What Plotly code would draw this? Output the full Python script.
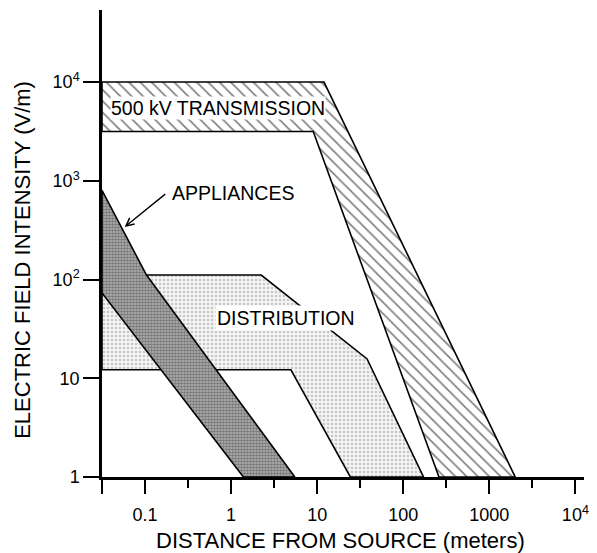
import plotly.graph_objects as go

# ---------------- data (log-log axes) ----------------
X_MIN = 10 ** -1.5          # left edge of the chart (y axis position)

# 500 kV transmission band (outline, closed)
trans_x = [X_MIN, 12, 2000, 260, 9, X_MIN, X_MIN]
trans_y = [1e4, 1e4, 1, 1, 3160, 3160, 1e4]

# Distribution band (outline, closed)
dist_x = [X_MIN, 2.24, 38, 172, 24.3, 4.95, X_MIN, X_MIN]
dist_y = [111, 111, 15.7, 1, 1, 12.2, 12.2, 111]

# Appliances band (outline, closed)
app_x = [X_MIN, 0.104, 5.5, 1.39, X_MIN, X_MIN]
app_y = [800, 111, 1, 1, 73, 800]

# Ticks
x_major = [X_MIN, 0.1, 1, 10, 100, 1000, 1e4]
x_major_text = ["", "0.1", "1", "10", "100", "1000", "10<sup>4</sup>"]
x_minor = [10 ** -0.5, 10 ** 0.5, 10 ** 1.5, 10 ** 2.5, 10 ** 3.5]
y_major = [1, 10, 100, 1000, 1e4]
y_major_text = ["1", "10", "10<sup>2</sup>", "10<sup>3</sup>", "10<sup>4</sup>"]

FONT = "Liberation Sans, Arial, Helvetica, sans-serif"

fig = go.Figure()

fig.add_trace(go.Scatter(
    x=trans_x, y=trans_y, mode="lines", fill="toself",
    line=dict(color="black", width=1.6),
    fillcolor="white",
    fillpattern=dict(shape="\\", size=8, solidity=0.2,
                     fgcolor="black", bgcolor="white"),
    hoverinfo="skip", showlegend=False))

fig.add_trace(go.Scatter(
    x=dist_x, y=dist_y, mode="lines", fill="toself",
    line=dict(color="black", width=1.6),
    fillcolor="white",
    fillpattern=dict(shape=".", size=4, solidity=0.35,
                     fgcolor="#9a9a9a", bgcolor="#f4f4f4"),
    hoverinfo="skip", showlegend=False))

fig.add_trace(go.Scatter(
    x=app_x, y=app_y, mode="lines", fill="toself",
    line=dict(color="black", width=1.6),
    fillcolor="#888",
    fillpattern=dict(shape=".", size=3, solidity=0.55,
                     fgcolor="#3a3a3a", bgcolor="#b4b4b4"),
    hoverinfo="skip", showlegend=False))

annotations = [
    dict(x=-0.155, y=3.738, xref="x", yref="y", text="500 kV TRANSMISSION",
         showarrow=False, bgcolor="white", borderpad=0,
         font=dict(family=FONT, size=19.5, color="black")),
    dict(x=0.017, y=2.877, xref="x", yref="y", text="APPLIANCES",
         showarrow=False, font=dict(family=FONT, size=19.5, color="black")),
    dict(x=0.638, y=1.61, xref="x", yref="y", text="DISTRIBUTION",
         showarrow=False, bgcolor="white", borderpad=1,
         font=dict(family=FONT, size=19.5, color="black")),
    # arrow pointing at the appliances band
    dict(x=-1.236, y=2.533, xref="x", yref="y", text="", showarrow=True,
         ax=42, ay=-34, arrowhead=5, arrowsize=1.1, arrowwidth=1.4,
         arrowcolor="black"),
    # axis titles
    dict(x=(343 - 102) / 487, y=(477 - 540) / 467, xref="paper", yref="paper",
         xanchor="center", yanchor="middle",
         text="DISTANCE FROM SOURCE (meters)", showarrow=False,
         font=dict(family=FONT, size=22, color="black")),
    dict(x=(21 - 102) / 487, y=(477 - 260) / 467, xref="paper", yref="paper",
         xanchor="center", yanchor="middle",
         text="ELECTRIC FIELD INTENSITY (V/m)", showarrow=False, textangle=-90,
         font=dict(family=FONT, size=22, color="black")),
]

fig.update_layout(
    width=597, height=553,
    margin=dict(l=102, r=8, t=10, b=76),
    paper_bgcolor="white", plot_bgcolor="white",
    font=dict(family=FONT, size=18, color="black"),
    annotations=annotations,
    xaxis=dict(
        type="log", range=[-1.5, 4.1],
        showgrid=False, zeroline=False,
        showline=True, linecolor="black", linewidth=2.5,
        tickmode="array", tickvals=x_major, ticktext=x_major_text,
        ticks="outside", ticklen=14, tickwidth=1.5, tickcolor="black",
        ticklabelstandoff=6,
        tickfont=dict(family=FONT, size=18, color="black"),
        minor=dict(tickmode="array", tickvals=x_minor, ticks="outside",
                   ticklen=8, tickwidth=1.5, tickcolor="black", showgrid=False),
    ),
    yaxis=dict(
        type="log", range=[0, 4.73],
        showgrid=False, zeroline=False,
        showline=True, linecolor="black", linewidth=2.5,
        tickmode="array", tickvals=y_major, ticktext=y_major_text,
        ticks="outside", ticklen=16, tickwidth=1.5, tickcolor="black",
        tickfont=dict(family=FONT, size=18, color="black"),
    ),
)

fig.write_html("out.html")
